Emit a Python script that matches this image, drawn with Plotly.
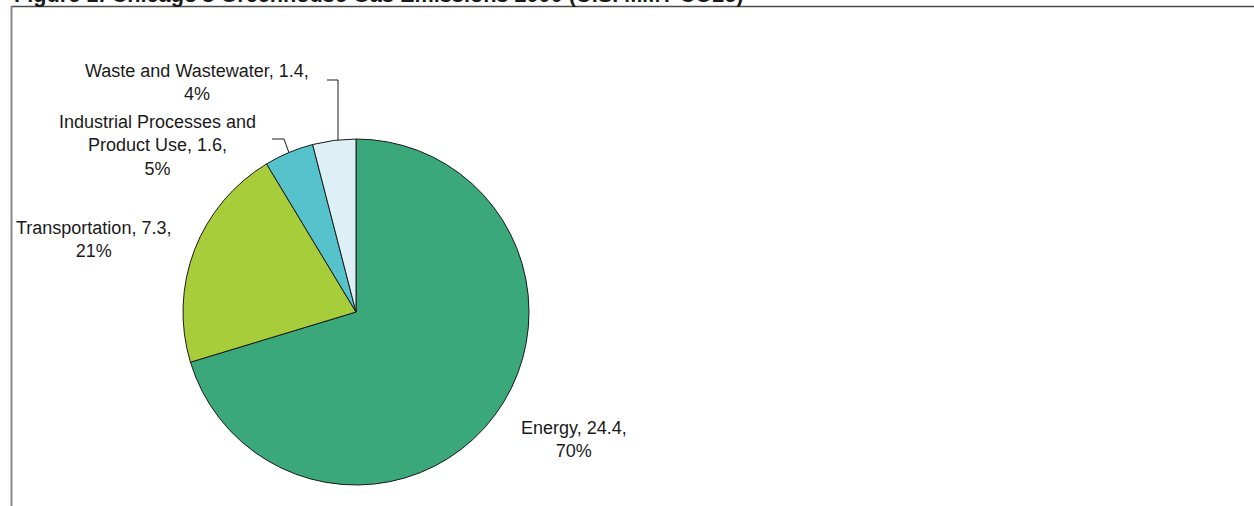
import math
import plotly.graph_objects as go

# Emission sources (U.S. MMT CO2e) and their shares
categories = ["Energy", "Transportation", "Industrial Processes and Product Use", "Waste and Wastewater"]
values = [24.4, 7.3, 1.6, 1.4]
percent_labels = ["70%", "21%", "5%", "4%"]
colors = ["#3aa87a", "#a8cd3a", "#56c3cc", "#ddf0f6"]

W, H = 1254, 506
# pie geometry in pixels
CX, CY, R = 356, 312, 173

def px(x):
    return x / W

def py(y):
    return 1 - y / H

fig = go.Figure()
fig.add_trace(go.Pie(
    labels=categories,
    values=values,
    sort=False,
    direction="clockwise",
    rotation=0,
    textinfo="none",
    hoverinfo="label+value+percent",
    marker=dict(colors=colors, line=dict(color="#1a1a1a", width=1)),
    domain=dict(x=[px(CX - R), px(CX + R)], y=[py(CY + R), py(CY - R)]),
    showlegend=False,
))

# label text built from the data
label_texts = [
    f"{categories[0]}, {values[0]},<br>{percent_labels[0]}",
    f"{categories[1]}, {values[1]},<br>{percent_labels[1]}",
    "Industrial Processes and<br>Product Use, " + f"{values[2]},<br>{percent_labels[2]}",
    f"{categories[3]}, {values[3]},<br>{percent_labels[3]}",
]
# label centres (pixels)
label_pos = [(574, 439), (93, 240), (157, 145), (197, 83)]

annotations = []
for txt, (lx, ly) in zip(label_texts, label_pos):
    annotations.append(dict(
        x=px(lx), y=py(ly), xref="paper", yref="paper", text=txt,
        showarrow=False, align="center", xanchor="center", yanchor="middle",
        font=dict(family="Arial, Liberation Sans, sans-serif", size=18, color="#1a1a1a"),
    ))

# chart heading, partly above the page edge
annotations.append(dict(
    x=px(12), y=1, xref="paper", yref="paper",
    text="<b>Figure 1: Chicago's Greenhouse Gas Emissions 2000 (U.S. MMT CO2e)</b>",
    showarrow=False, xanchor="left", yanchor="middle", yshift=5.5,
    font=dict(family="Arial, Liberation Sans, sans-serif", size=21.7, color="#1a1a1a"),
))

# slice mid-angle edge points for leader lines
total = sum(values)
def edge_point(i):
    start = sum(values[:i]) / total * 360
    mid = start + values[i] / total * 180
    a = math.radians(mid)
    return CX + R * math.sin(a), CY - R * math.cos(a)

shapes = []
# leader for waste
ex, ey = edge_point(3)
shapes.append(dict(type="path", xref="paper", yref="paper",
                   path=f"M {px(327)} {py(80)} L {px(338)} {py(80)} L {px(338)} {py(ey)}",
                   line=dict(color="#1a1a1a", width=1)))
# leader for industrial processes
ex2, ey2 = edge_point(2)
shapes.append(dict(type="path", xref="paper", yref="paper",
                   path=f"M {px(272)} {py(139)} L {px(284)} {py(139)} L {px(ex2)} {py(ey2)}",
                   line=dict(color="#1a1a1a", width=1)))
# frame
shapes.append(dict(type="line", xref="paper", yref="paper",
                   x0=px(11), x1=1, y0=py(6.5), y1=py(6.5),
                   line=dict(color="#4a4a4a", width=1.5)))
shapes.append(dict(type="line", xref="paper", yref="paper",
                   x0=px(11.5), x1=px(11.5), y0=py(6.5), y1=0,
                   line=dict(color="#8a8a8a", width=2)))

fig.update_layout(
    width=W, height=H,
    margin=dict(l=0, r=0, t=0, b=0),
    paper_bgcolor="white", plot_bgcolor="white",
    annotations=annotations, shapes=shapes,
)

fig.write_html("out.html")
